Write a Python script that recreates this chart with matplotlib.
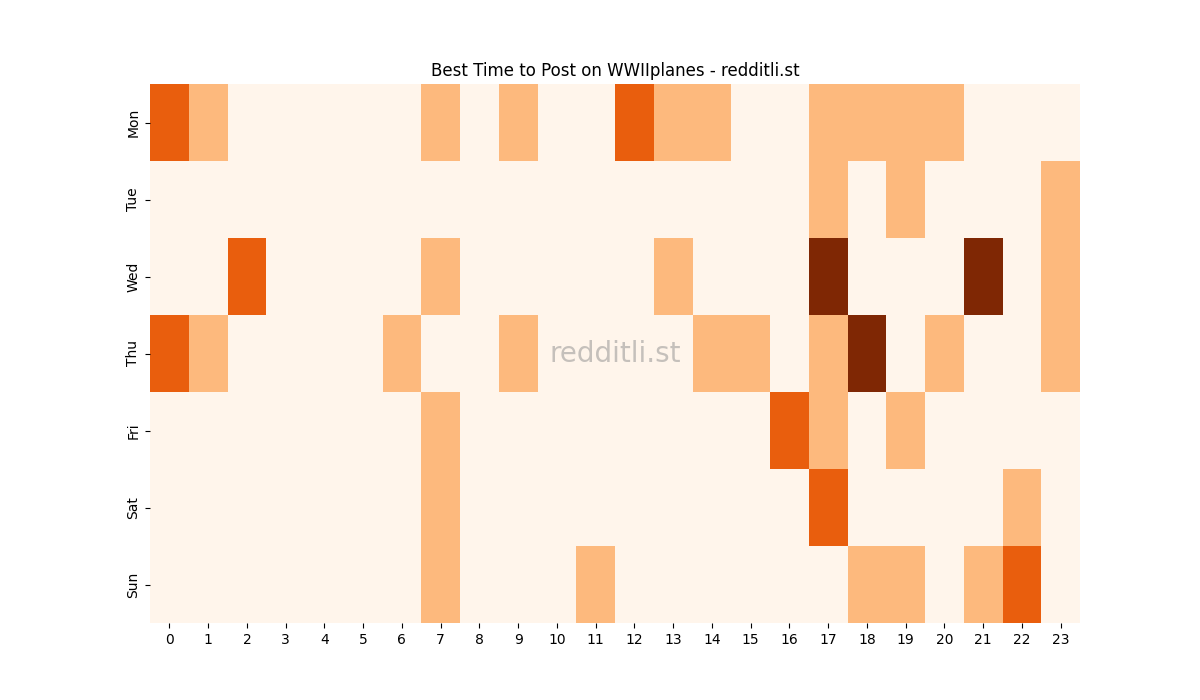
import numpy as np
import matplotlib
matplotlib.use("Agg")
import matplotlib.pyplot as plt
import seaborn as sns

days = ["Mon", "Tue", "Wed", "Thu", "Fri", "Sat", "Sun"]
hours = list(range(24))

# post-count level per hour, one list per day
mon = [2, 1, 0, 0, 0, 0, 0, 1, 0, 1, 0, 0, 2, 1, 1, 0, 0, 1, 1, 1, 1, 0, 0, 0]
tue = [0, 0, 0, 0, 0, 0, 0, 0, 0, 0, 0, 0, 0, 0, 0, 0, 0, 1, 0, 1, 0, 0, 0, 1]
wed = [0, 0, 2, 0, 0, 0, 0, 1, 0, 0, 0, 0, 0, 1, 0, 0, 0, 3, 0, 0, 0, 3, 0, 1]
thu = [2, 1, 0, 0, 0, 0, 1, 0, 0, 1, 0, 0, 0, 0, 1, 1, 0, 1, 3, 0, 1, 0, 0, 1]
fri = [0, 0, 0, 0, 0, 0, 0, 1, 0, 0, 0, 0, 0, 0, 0, 0, 2, 1, 0, 1, 0, 0, 0, 0]
sat = [0, 0, 0, 0, 0, 0, 0, 1, 0, 0, 0, 0, 0, 0, 0, 0, 0, 2, 0, 0, 0, 0, 1, 0]
sun = [0, 0, 0, 0, 0, 0, 0, 1, 0, 0, 0, 1, 0, 0, 0, 0, 0, 0, 1, 1, 0, 1, 2, 0]

data = np.array([mon, tue, wed, thu, fri, sat, sun])

fig, ax = plt.subplots(figsize=(12, 7), dpi=100)
sns.heatmap(data, cmap="Oranges", cbar=False, ax=ax,
            xticklabels=hours, yticklabels=days)
ax.set_title("Best Time to Post on WWIIplanes - redditli.st")

# watermark in the middle of the plot
ax.text(0.5, 0.5, "redditli.st", transform=ax.transAxes, ha="center", va="center",
        fontsize=20, color="#8c8c8c", alpha=0.5)

plt.savefig("out.png", dpi=100)
plt.close()
